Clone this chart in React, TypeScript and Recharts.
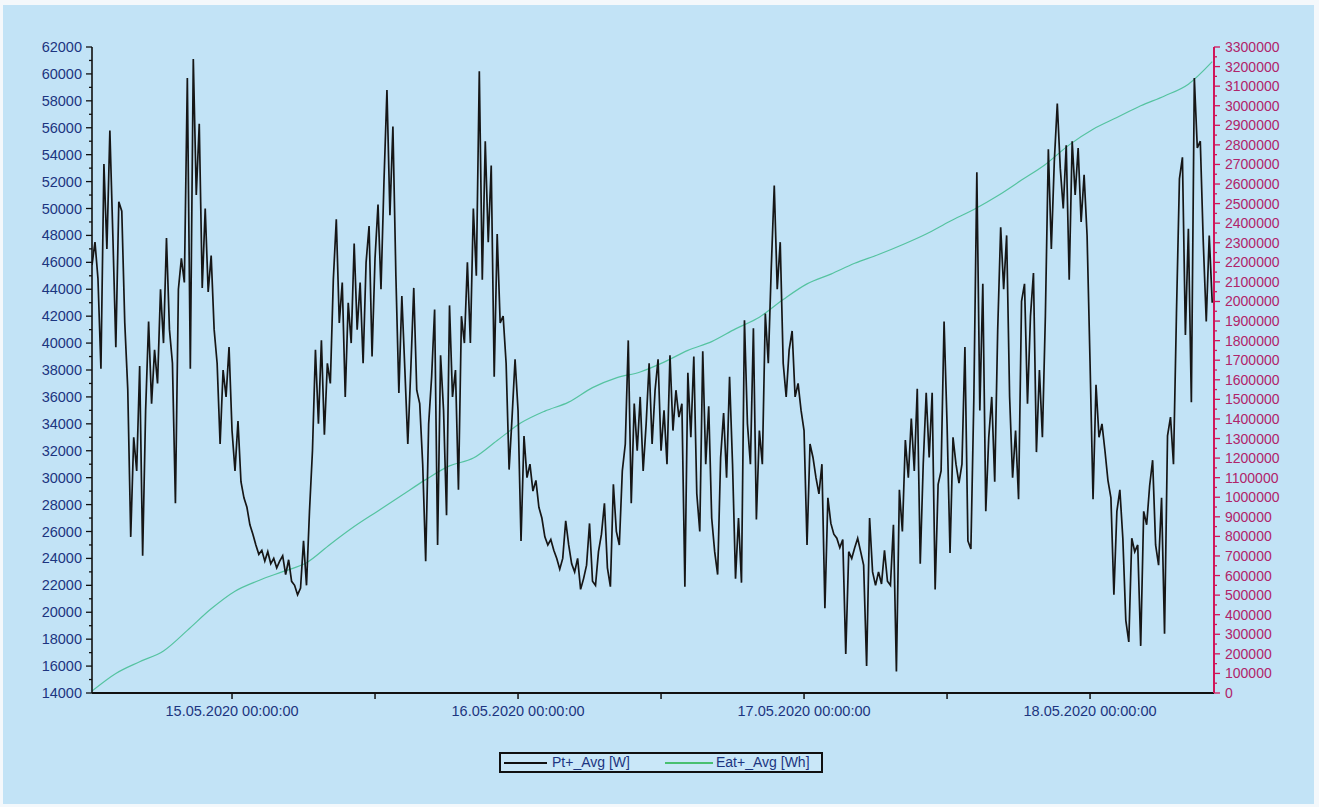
import React from 'react';
import { LineChart, Line, XAxis, YAxis } from 'recharts';

// time axis: hours counted from 14.05.2020 00:00, one sample every 15 minutes
const START_HOUR = 12.25;
const STEP_HOURS = 0.25;

// Pt+_Avg [W] in six slices
const powerPart1 = [
  45800, 47500, 44800, 38100, 53300, 47000, 55800, 48000, 39700, 50500,
  49800, 41500, 36600, 25600, 33000, 30500, 38300, 24200, 35000, 41600,
  35500, 39500, 37000, 44000, 40000, 47800, 41000, 38500, 28100, 44000,
  46300, 44500, 59700, 38100, 61100, 51000, 56300, 44100, 50000, 43800,
  46500, 41000, 38500, 32500, 38000, 36000, 39700, 33500, 30500, 34200,
  29700, 28500, 27800, 26500, 25800, 25000, 24300, 24600, 23800, 24500,
  23600, 24000, 23300,
];
const powerPart2 = [
  23800, 24200, 22800, 23900, 22300, 22000, 21300, 21800, 25300, 22000,
  27500, 32000, 39500, 34000, 40200, 33200, 38500, 37000, 44700, 49200,
  41500, 44500, 36000, 43000, 40000, 47400, 41000, 44500, 38500, 46000,
  48700, 39000, 46300, 50300, 44000, 52000, 58800, 49500, 56100, 45000,
  36300, 43500, 38100, 32500, 38000, 44100, 36500, 35500, 31000, 23800,
  34000, 37500, 42500, 25000, 39100, 35000, 27200, 42800, 36000, 38000,
  29100, 42000, 40000, 46000,
];
const powerPart3 = [
  40000, 50000, 45000, 60200, 44700, 55000, 47500, 53200, 37500, 48100,
  41500, 42000, 38500, 30600, 34500, 38800, 35000, 25300, 33100, 30000,
  31000, 29000, 29800, 27800, 27000, 25600, 25000, 25400, 24600, 24000,
  23200, 24000, 26800, 25000, 23600, 23000, 24000, 21700, 22500, 23500,
  26600, 22300, 22000, 24500, 25800, 28100, 23300, 21900, 29500, 26000,
  25000, 30500, 32500, 40200, 28100, 35500, 32000, 36000, 30500, 34000,
  38500, 32500, 36500,
];
const powerPart4 = [
  38800, 32000, 35000, 31000, 39100, 33500, 36500, 34500, 35500, 21900,
  37800, 33000, 39000, 28800, 26000, 39400, 31000, 35300, 27000, 24500,
  22800, 31500, 34800, 30000, 37500, 31000, 22500, 27000, 22200, 41700,
  34000, 31000, 41100, 26900, 33500, 31000, 42200, 38500, 45600, 51700,
  44000, 47500, 38500, 36000, 39500, 40900, 36000, 37000, 35000, 33500,
  25000, 32500, 31500, 30000, 28800, 31000, 20300, 28500, 26600, 25800,
  25500, 24800, 25400, 16900,
];
const powerPart5 = [
  24500, 24000, 24800, 25500, 24500, 23500, 16000, 27000, 23000, 22000,
  23000, 22100, 24600, 22300, 22000, 26500, 15600, 29100, 26000, 32800,
  30000, 34400, 30500, 36600, 23600, 31000, 36300, 31500, 36300, 21700,
  29500, 30500, 41600, 34000, 24400, 33000, 31000, 29600, 31000, 39700,
  25300, 24700, 36000, 52700, 35000, 44400, 27500, 33000, 36000, 29700,
  41000, 48600, 44000, 48000, 36000, 30000, 33500, 28400, 43100, 44400,
  35500, 42000, 45200, 31900,
];
const powerPart6 = [
  38000, 33000, 42000, 54400, 47000, 53500, 57800, 53000, 50000, 54700,
  44700, 55000, 51000, 54500, 49000, 52500, 48000, 38500, 28400, 36900,
  33000, 34000, 32000, 29800, 28500, 21300, 27500, 29100, 25500, 19400,
  17800, 25500, 24500, 25000, 17500, 27500, 26500, 29400, 31300, 25000,
  23500, 28500, 18400, 33100, 34500, 31000, 42200, 52200, 53800, 40600,
  48500, 35600, 59700, 54500, 55000, 47500, 41600, 48000, 43000,
];

// Eat+_Avg [Wh], one reading every 2 hours (every 8th sample)
const energyWh = [
  10000, 100000, 160000, 215000, 320000, 430000, 520000, 575000, 620000, 665000,
  760000, 850000, 930000, 1010000, 1090000, 1160000, 1200000, 1290000, 1380000, 1440000,
  1486000, 1560000, 1610000, 1640000, 1690000, 1750000, 1795000, 1860000, 1920000, 2010000,
  2090000, 2140000, 2195000, 2240000, 2290000, 2345000, 2410000, 2470000, 2540000, 2620000,
  2700000, 2800000, 2880000, 2940000, 3000000, 3050000, 3110000, 3225000,
];
const ENERGY_EVERY = 8;

const dayTicks = [24, 48, 72, 96];
const dayLabels = ['15.05.2020 00:00:00', '16.05.2020 00:00:00', '17.05.2020 00:00:00', '18.05.2020 00:00:00'];
const noonTicks = [36, 60, 84];

const powerLabels = [
  14000, 16000, 18000, 20000, 22000, 24000, 26000, 28000, 30000, 32000, 34000, 36000, 38000,
  40000, 42000, 44000, 46000, 48000, 50000, 52000, 54000, 56000, 58000, 60000, 62000,
];
const energyLabels = [
  0, 100000, 200000, 300000, 400000, 500000, 600000, 700000, 800000, 900000, 1000000,
  1100000, 1200000, 1300000, 1400000, 1500000, 1600000, 1700000, 1800000, 1900000, 2000000,
  2100000, 2200000, 2300000, 2400000, 2500000, 2600000, 2700000, 2800000, 2900000, 3000000,
  3100000, 3200000, 3300000,
];

const powerW = [...powerPart1, ...powerPart2, ...powerPart3, ...powerPart4, ...powerPart5, ...powerPart6];

const data = powerW.map((p, i) => ({
  t: START_HOUR + i * STEP_HOURS,
  power: p,
  energy: i % ENERGY_EVERY === 0 ? energyWh[i / ENERGY_EVERY] : null,
}));

// minor ticks half way between the labelled ones
const withMinors = (labels: number[]) => {
  const out: number[] = [];
  labels.forEach((v, i) => {
    out.push(v);
    if (i < labels.length - 1) out.push((v + labels[i + 1]) / 2);
  });
  return out;
};
const powerTicks = withMinors(powerLabels);
const energyTicks = withMinors(energyLabels);
const timeTicks = [...dayTicks, ...noonTicks].sort((a, b) => a - b);

const NAVY = '#1c3580';
const CRIMSON = '#d0165a';
const FONT = '"Liberation Sans", Arial, sans-serif';

const PowerTick = ({ x, y, payload }: any) => {
  const major = powerLabels.includes(payload.value);
  return (
    <g>
      <line x1={x - (major ? 6 : 3)} y1={y} x2={x} y2={y} stroke="#111" strokeWidth={1.3} />
      {major && (
        <text x={x - 10} y={y} dy={5} textAnchor="end" fill={NAVY} fontSize={14.5}>
          {payload.value}
        </text>
      )}
    </g>
  );
};

const EnergyTick = ({ x, y, payload }: any) => {
  const major = energyLabels.includes(payload.value);
  return (
    <g>
      <line x1={x} y1={y} x2={x + (major ? 6 : 3)} y2={y} stroke={CRIMSON} strokeWidth={1.3} />
      {major && (
        <text x={x + 11} y={y} dy={5} textAnchor="start" fill="#b0246a" fontSize={14}>
          {payload.value}
        </text>
      )}
    </g>
  );
};

const TimeTick = ({ x, y, payload }: any) => {
  const idx = dayTicks.indexOf(payload.value);
  return (
    <g>
      <line x1={x} y1={y} x2={x} y2={y + 6} stroke="#111" strokeWidth={1.5} />
      {idx >= 0 && (
        <text x={x} y={y + 23} textAnchor="middle" fill={NAVY} fontSize={14.5}>
          {dayLabels[idx]}
        </text>
      )}
    </g>
  );
};

const App: React.FC = () => {
  return (
    <div style={{ position: 'absolute', left: 0, top: 0, width: 1319, height: 807, background: '#f4f8fb', fontFamily: FONT }}>
      <div style={{ position: 'absolute', left: 3, top: 5, right: 5, bottom: 3, background: '#c2e3f6' }} />
      <div style={{ position: 'absolute', left: 0, top: 0 }}>
        <LineChart width={1319} height={807} data={data} margin={{ top: 47, right: 0, bottom: 84, left: 0 }}>
          <XAxis
            dataKey="t"
            type="number"
            domain={[12.25, 106.4]}
            allowDataOverflow
            ticks={timeTicks}
            interval={0}
            height={30}
            tickSize={0}
            tickMargin={0}
            tick={<TimeTick />}
            tickLine={false}
            axisLine={{ stroke: '#111', strokeWidth: 2 }}
          />
          <YAxis
            yAxisId="p"
            orientation="left"
            type="number"
            domain={[14000, 62000]}
            allowDataOverflow
            ticks={powerTicks}
            interval={0}
            width={92}
            tickSize={0}
            tickMargin={0}
            tick={<PowerTick />}
            tickLine={false}
            axisLine={{ stroke: '#111', strokeWidth: 1.6 }}
          />
          <YAxis
            yAxisId="e"
            orientation="right"
            type="number"
            domain={[0, 3300000]}
            allowDataOverflow
            ticks={energyTicks}
            interval={0}
            width={105}
            tickSize={0}
            tickMargin={0}
            tick={<EnergyTick />}
            tickLine={false}
            axisLine={{ stroke: CRIMSON, strokeWidth: 2 }}
          />
          <Line
            yAxisId="e"
            dataKey="energy"
            type="monotone"
            stroke="#55c3a0"
            strokeWidth={1.2}
            dot={false}
            connectNulls
            isAnimationActive={false}
          />
          <Line
            yAxisId="p"
            dataKey="power"
            type="linear"
            stroke="#161616"
            strokeWidth={1.7}
            dot={false}
            isAnimationActive={false}
          />
        </LineChart>
      </div>
      <div
        style={{
          position: 'absolute',
          left: 499,
          top: 752,
          width: 320,
          height: 17,
          border: '2px solid #111',
          background: '#c9e7f8',
          color: NAVY,
          fontSize: 14,
          lineHeight: '17px',
        }}
      >
        <div style={{ position: 'absolute', left: 3, top: 8, width: 43, height: 2, background: '#111' }} />
        <span style={{ position: 'absolute', left: 51, top: 0 }}>Pt+_Avg [W]</span>
        <div style={{ position: 'absolute', left: 164, top: 8, width: 48, height: 2, background: '#48c070' }} />
        <span style={{ position: 'absolute', left: 215, top: 0 }}>Eat+_Avg [Wh]</span>
      </div>
    </div>
  );
};

export default App;
